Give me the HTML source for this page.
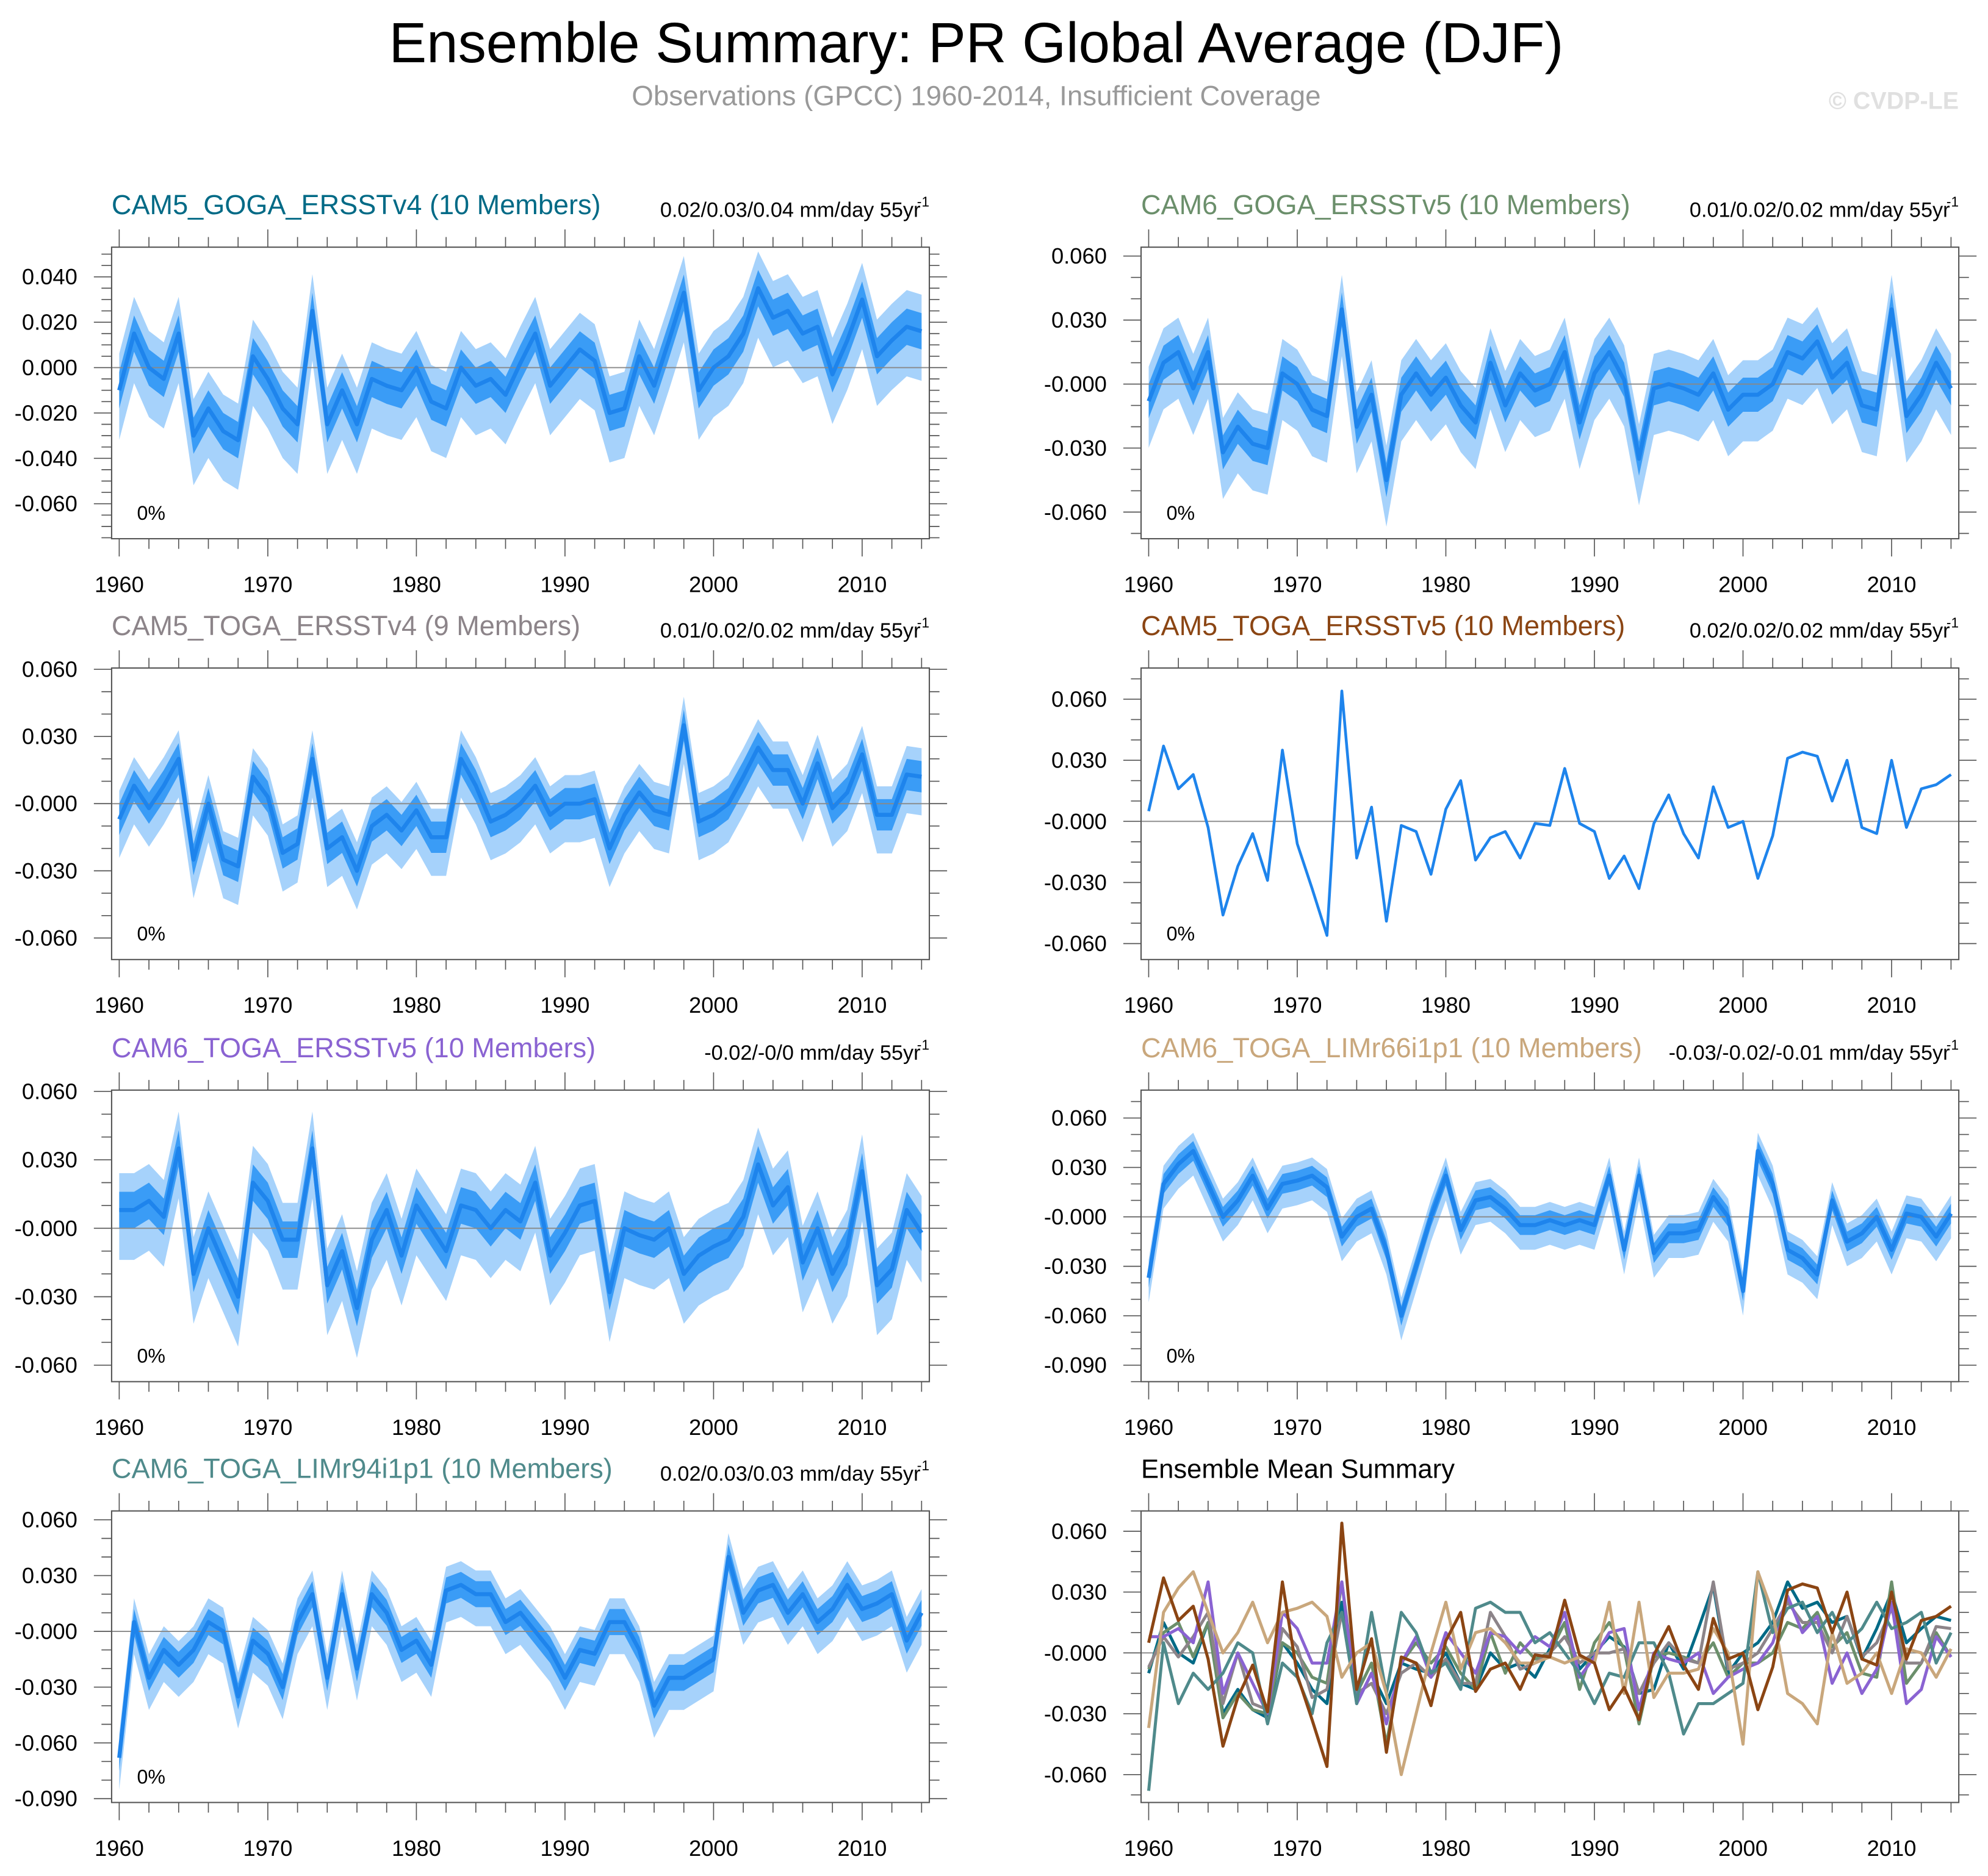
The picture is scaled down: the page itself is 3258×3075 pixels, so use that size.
<!DOCTYPE html>
<html><head><meta charset="utf-8">
<style>
html,body{margin:0;padding:0;background:#fff;}
svg{display:block;font-family:"Liberation Sans",Arial,sans-serif;}
</style></head>
<body>
<svg id="chart" width="3258" height="3075" viewBox="0 0 1568 1480" xmlns="http://www.w3.org/2000/svg">
<text x="770" y="49" font-size="44.5" text-anchor="middle" fill="#000">Ensemble Summary: PR Global Average (DJF)</text>
<text x="770" y="83" font-size="22" text-anchor="middle" fill="#999">Observations (GPCC) 1960-2014, Insufficient Coverage</text>
<text x="1545" y="86" font-size="19" font-weight="bold" text-anchor="end" fill="#e0e0e0">© CVDP-LE</text>
<g id="panels"></g>
</svg>
<script>
const years = []; for (let y = 1960; y <= 2014; y++) years.push(y);
const xTickLabels = [1960, 1970, 1980, 1990, 2000, 2010];

const mean1 = [-0.010,0.015,0.000,-0.005,0.015,-0.030,-0.018,-0.028,-0.032,0.005,
-0.005,-0.018,-0.025,0.025,-0.025,-0.010,-0.025,-0.005,-0.008,-0.010,
0.000,-0.015,-0.018,0.000,-0.008,-0.005,-0.012,0.002,0.015,-0.008,
0.000,0.008,0.003,-0.020,-0.018,0.005,-0.008,0.012,0.033,-0.010,
0.000,0.005,0.015,0.035,0.022,0.025,0.015,0.018,-0.003,0.012,
0.030,0.005,0.012,0.018,0.016];
const mean2 = [-0.008,0.010,0.015,-0.002,0.015,-0.032,-0.020,-0.028,-0.030,0.005,
0.000,-0.012,-0.015,0.035,-0.020,-0.005,-0.045,-0.005,0.005,-0.005,
0.003,-0.010,-0.018,0.010,-0.010,0.005,-0.003,0.000,0.015,-0.018,
0.005,0.015,0.002,-0.035,-0.002,0.000,-0.002,-0.005,0.005,-0.012,
-0.005,-0.005,0.000,0.015,0.012,0.020,0.003,0.010,-0.010,-0.012,
0.035,-0.015,-0.005,0.010,-0.002];
const mean3 = [-0.007,0.008,-0.002,0.008,0.020,-0.025,0.000,-0.025,-0.028,0.012,
0.003,-0.022,-0.018,0.020,-0.020,-0.015,-0.030,-0.010,-0.005,-0.012,
-0.003,-0.015,-0.015,0.020,0.008,-0.008,-0.005,0.000,0.008,-0.005,
0.000,0.000,0.002,-0.020,-0.005,0.005,-0.003,-0.005,0.035,-0.008,
-0.005,0.000,0.012,0.025,0.015,0.015,0.000,0.018,-0.002,0.005,
0.022,-0.005,-0.005,0.013,0.012];
const mean4 = [0.005,0.037,0.016,0.023,-0.003,-0.046,-0.022,-0.006,-0.029,0.035,
-0.011,-0.033,-0.056,0.064,-0.018,0.007,-0.049,-0.002,-0.005,-0.026,
0.006,0.020,-0.019,-0.008,-0.005,-0.018,-0.001,-0.002,0.026,-0.001,
-0.005,-0.028,-0.017,-0.033,-0.001,0.013,-0.006,-0.018,0.017,-0.003,
0.000,-0.028,-0.007,0.031,0.034,0.032,0.010,0.030,-0.003,-0.006,
0.030,-0.003,0.016,0.018,0.023];
const mean5 = [0.008,0.008,0.012,0.005,0.035,-0.020,0.000,-0.015,-0.030,0.020,
0.012,-0.005,-0.005,0.035,-0.025,-0.010,-0.035,-0.005,0.008,-0.012,
0.010,0.000,-0.010,0.010,0.008,0.000,0.008,0.003,0.020,-0.012,
-0.002,0.010,0.012,-0.028,0.000,-0.003,-0.005,0.000,-0.020,-0.012,
-0.008,-0.005,0.005,0.028,0.010,0.018,-0.015,0.000,-0.020,-0.008,
0.025,-0.025,-0.018,0.008,-0.002];
const mean6 = [-0.037,0.020,0.032,0.040,0.020,0.000,0.010,0.025,0.005,0.020,
0.022,0.025,0.018,-0.012,0.000,0.005,-0.020,-0.060,-0.030,0.000,
0.025,-0.008,0.010,0.012,0.005,-0.005,-0.005,-0.002,-0.005,-0.002,
-0.005,0.025,-0.020,0.025,-0.022,-0.010,-0.010,-0.008,0.012,0.000,
-0.045,0.040,0.020,-0.020,-0.025,-0.035,0.010,-0.015,-0.010,0.000,
-0.020,0.002,0.000,-0.012,0.002];
const mean7 = [-0.068,0.005,-0.025,-0.010,-0.018,-0.010,0.005,0.000,-0.035,-0.005,
-0.012,-0.030,0.005,0.020,-0.025,0.020,-0.020,0.020,0.010,-0.010,
-0.005,-0.018,0.022,0.025,0.020,0.020,0.005,0.010,0.000,-0.010,
-0.025,-0.010,-0.012,0.005,0.005,-0.010,-0.040,-0.025,-0.025,-0.020,
-0.015,0.040,0.010,0.022,0.025,0.010,0.020,0.005,0.012,0.025,
0.012,0.015,0.020,-0.005,0.010];

const innerSpread = [0.008, 0.008, 0.007, 0, 0.008, 0.006, 0.007];
const outerSpread = [0.019, 0.019, 0.015, 0, 0.019, 0.013, 0.015];

const ticks1 = [0.040,0.020,0.000,-0.020,-0.040,-0.060];
const ticks2 = [0.060,0.030,0.000,-0.030,-0.060];
const ticks6 = [0.060,0.030,0.000,-0.030,-0.060,-0.090];

const NS = "http://www.w3.org/2000/svg";
const root = document.getElementById('panels');
function mk(tag, attrs, parent) {
  const e = document.createElementNS(NS, tag);
  for (const k in attrs) e.setAttribute(k, attrs[k]);
  (parent || root).appendChild(e);
  return e;
}
function fmt(v, ticks) {
  if (Math.abs(v) < 1e-9) return ticks === ticks1 ? "0.000" : "-0.000";
  return v.toFixed(3);
}

const panels = [
 {title:"CAM5_GOGA_ERSSTv4 (10 Members)", color:"#006a86", trend:"0.02/0.03/0.04 mm/day 55yr", col:0, mean:mean1, k:0, top:195, bot:425, ticks:ticks1, y0:290, ppu:35.8/0.02, minor:0.005},
 {title:"CAM6_GOGA_ERSSTv5 (10 Members)", color:"#6b8f6b", trend:"0.01/0.02/0.02 mm/day 55yr", col:1, mean:mean2, k:1, top:195, bot:425, ticks:ticks2, y0:303, ppu:50.5/0.03, minor:0.01},
 {title:"CAM5_TOGA_ERSSTv4 (9 Members)", color:"#8c8489", trend:"0.01/0.02/0.02 mm/day 55yr", col:0, mean:mean3, k:2, top:527, bot:757, ticks:ticks2, y0:634, ppu:53/0.03, minor:0.01},
 {title:"CAM5_TOGA_ERSSTv5 (10 Members)", color:"#8b4513", trend:"0.02/0.02/0.02 mm/day 55yr", col:1, mean:mean4, k:3, top:527, bot:757, ticks:ticks2, y0:648, ppu:48.2/0.03, minor:0.01},
 {title:"CAM6_TOGA_ERSSTv5 (10 Members)", color:"#8a63d2", trend:"-0.02/-0/0 mm/day 55yr", col:0, mean:mean5, k:4, top:860, bot:1090, ticks:ticks2, y0:969, ppu:54/0.03, minor:0.01},
 {title:"CAM6_TOGA_LIMr66i1p1 (10 Members)", color:"#c9a77c", trend:"-0.03/-0.02/-0.01 mm/day 55yr", col:1, mean:mean6, k:5, top:860, bot:1090, ticks:ticks6, y0:960, ppu:39/0.03, minor:0.01},
 {title:"CAM6_TOGA_LIMr94i1p1 (10 Members)", color:"#4f8a8b", trend:"0.02/0.03/0.03 mm/day 55yr", col:0, mean:mean7, k:6, top:1192, bot:1422, ticks:ticks6, y0:1287, ppu:44/0.03, minor:0.01},
 {title:"Ensemble Mean Summary", color:"#000", trend:"", col:1, mean:null, k:7, top:1192, bot:1422, ticks:ticks2, y0:1304, ppu:48/0.03, minor:0.01}
];

panels.forEach((p, pi) => {
  const L = p.col === 0 ? 88 : 900, R = L + 645;
  const xs = yr => L + 6 + (yr - 1960) * 11.72;
  const ys = v => p.y0 - v * p.ppu;
  const g = mk('g', {});
  
  
  const t = mk('text', {x: L, y: p.top - 26, 'font-size': p.k === 7 ? 21 : 21.7, fill: p.color}, g);
  t.textContent = p.title;
  
  
  if (p.trend) {
    const tr = mk('text', {x: R - 7, y: p.top - 24, 'font-size': 16.5, 'text-anchor': 'end', fill: '#000'}, g);
    tr.textContent = p.trend;
    
    
    const sup = mk('text', {x: R, y: p.top - 32, 'font-size': 11, 'text-anchor': 'end', fill: '#000'}, g);
    sup.textContent = "-1";
    
    
  }
  const tk = mk('g', {stroke: '#555', 'stroke-width': 0.8}, g);
  
  
  for (let yr = 1960; yr <= 2014; yr += 2) {
    const len = (yr % 10 === 0) ? 14 : 8;
    const x = xs(yr);
    mk('line', {x1: x, x2: x, y1: p.bot, y2: p.bot + len}, tk);
    mk('line', {x1: x, x2: x, y1: p.top, y2: p.top - len}, tk);
  }
  const ylo = (p.y0 - p.bot) / p.ppu, yhi = (p.y0 - p.top) / p.ppu;
  for (let v = Math.ceil(ylo / p.minor) * p.minor; v <= yhi + 1e-9; v += p.minor) {
    const y = ys(v);
    if (y < p.top || y > p.bot) continue;
    const isMaj = p.ticks.some(tv => Math.abs(tv - v) < 1e-6);
    const len = isMaj ? 14 : 8;
    mk('line', {x1: L, x2: L - len, y1: y, y2: y}, tk);
    mk('line', {x1: R, x2: R + len, y1: y, y2: y}, tk);
  }
  p.ticks.forEach(v => {
    const tl = mk('text', {x: L - 27, y: ys(v) + 6, 'font-size': 17.5, 'text-anchor': 'end', fill: '#000'}, g);
    tl.textContent = fmt(v, p.ticks);
    
    
  });
  xTickLabels.forEach(yr => {
    const xl = mk('text', {x: xs(yr), y: p.bot + 42, 'font-size': 17.5, 'text-anchor': 'middle', fill: '#000'}, g);
    xl.textContent = yr;
    
    
  });
  if (p.mean && outerSpread[p.k] > 0) {
    const band = (spU, spD, fill, name) => {
      const up = p.mean.map((v, i) => xs(years[i]) + ',' + ys(v + spU));
      const dn = p.mean.map((v, i) => xs(years[i]) + ',' + ys(v - spD)).reverse();
      const pg = mk('polygon', {points: up.concat(dn).join(' '), fill: fill}, g);
      
      
    };
    band(outerSpread[p.k] * 0.85, outerSpread[p.k] * 1.15, '#a6d2fb', 'outer-spread-band');
    band(innerSpread[p.k], innerSpread[p.k], '#3a9cf6', 'inner-spread-band');
  }
  const zl = mk('line', {x1: L, x2: R, y1: ys(0), y2: ys(0), stroke: '#888', 'stroke-width': 0.9}, g);
  
  
  if (p.mean) {
    const pl = mk('polyline', {points: p.mean.map((v, i) => xs(years[i]) + ',' + ys(v)).join(' '), fill: 'none', stroke: '#1e84ec', 'stroke-width': p.k === 3 ? 2.2 : 3.2, 'stroke-linejoin': 'round'}, g);
    
    
    const pc = mk('text', {x: L + 20, y: p.bot - 15, 'font-size': 15.5, fill: '#000'}, g);
    pc.textContent = "0%";
    
    
  } else {
    const series = [mean1, mean2, mean3, mean5, mean7, mean6, mean4];
    const colors = ['#006a86', '#6b8f6b', '#8c8489', '#8a63d2', '#4f8a8b', '#c9a77c', '#8b4513'];
    series.forEach((arr, si) => {
      const pl = mk('polyline', {points: arr.map((v, i) => xs(years[i]) + ',' + ys(v)).join(' '), fill: 'none', stroke: colors[si], 'stroke-width': 2.4, 'stroke-linejoin': 'round'}, g);
      
      
    });
  }
  const box = mk('rect', {x: L, y: p.top, width: 645, height: p.bot - p.top, fill: 'none', stroke: '#555', 'stroke-width': 1}, g);
  
  
});
</script>
</body></html>
